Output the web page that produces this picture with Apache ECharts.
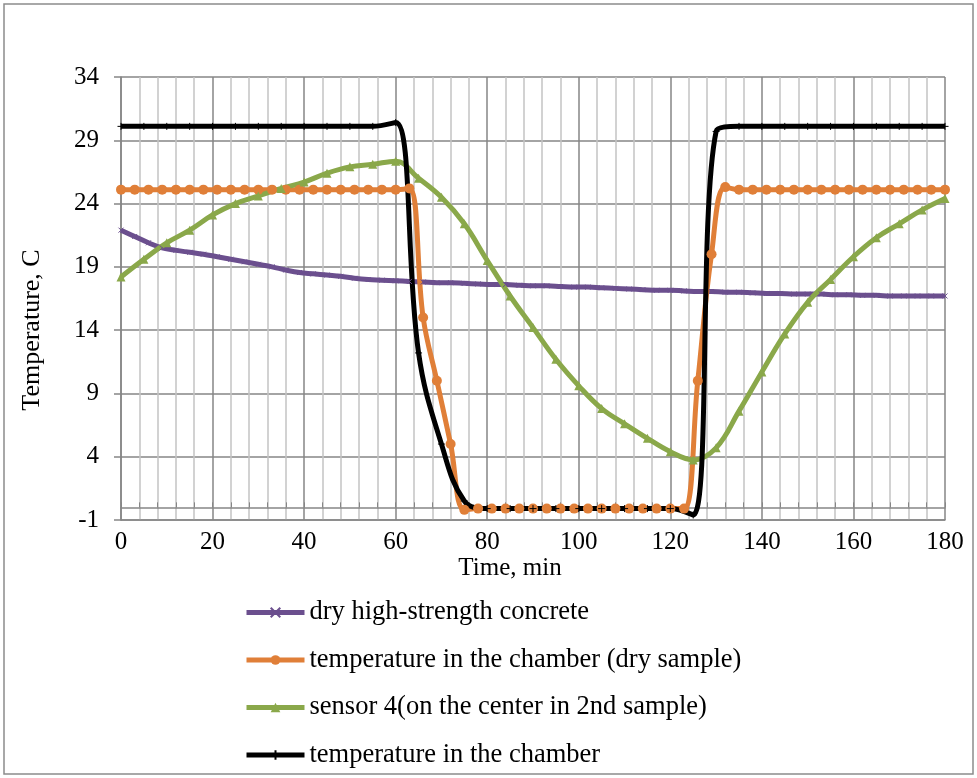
<!DOCTYPE html>
<html>
<head>
<meta charset="utf-8">
<script src="https://cdn.jsdelivr.net/npm/echarts@6/dist/echarts.min.js"></script>
<style>
  html, body { margin: 0; padding: 0; background: #fff; }
  #chart { width: 977px; height: 778px; }
</style>
</head>
<body>
<div id="chart"></div>
<script>
// sample times, min
const minutes3 = [0, 3, 6, 9, 12, 15, 18, 21, 24, 27, 30, 33, 36, 39, 42, 45, 48, 51, 54, 57,
  60, 63, 66, 69, 72, 75, 78, 81, 84, 87, 90, 93, 96, 99, 102, 105, 108, 111, 114, 117,
  120, 123, 126, 129, 132, 135, 138, 141, 144, 147, 150, 153, 156, 159, 162, 165, 168, 171, 174, 177, 180]
const minutes5 = [0, 5, 10, 15, 20, 25, 30, 35, 40, 45, 50, 55, 60, 65, 70, 75, 80, 85, 90,
  95, 100, 105, 110, 115, 120, 125, 130, 135, 140, 145, 150, 155, 160, 165, 170, 175, 180]

// temperatures, C
const dryConcrete = [21.9, 21.4, 20.9, 20.5, 20.3, 20.15, 20.0, 19.8, 19.6, 19.4, 19.2, 19.0, 18.75, 18.55, 18.45, 18.35, 18.25, 18.1, 18.0, 17.95,
  17.9, 17.85, 17.8, 17.75, 17.75, 17.7, 17.65, 17.6, 17.6, 17.55, 17.5, 17.5, 17.45, 17.4, 17.4, 17.35, 17.3, 17.25, 17.2, 17.15,
  17.15, 17.1, 17.05, 17.05, 17.0, 17.0, 16.95, 16.9, 16.9, 16.85, 16.85, 16.85, 16.8, 16.8, 16.75, 16.75, 16.7, 16.7, 16.7, 16.7, 16.7]
const chamberDry = [25.1, 25.1, 25.1, 25.1, 25.1, 25.1, 25.1, 25.1, 25.1, 25.1, 25.1, 25.1, 25.1, 25.1, 25.1, 25.1, 25.1, 25.1, 25.1, 25.1,
  25.1, 25.2, 15.0, 10.0, 5.0, -0.2, -0.1, -0.1, -0.1, -0.1, -0.1, -0.1, -0.1, -0.1, -0.1, -0.1, -0.1, -0.1, -0.1, -0.1,
  -0.1, -0.1, 10.0, 20.0, 25.3, 25.1, 25.1, 25.1, 25.1, 25.1, 25.1, 25.1, 25.1, 25.1, 25.1, 25.1, 25.1, 25.1, 25.1, 25.1, 25.1]
const sensor4 = [18.2, 19.6, 20.9, 21.9, 23.1, 24.0, 24.6, 25.2, 25.7, 26.4, 26.9, 27.1, 27.35, 26.0, 24.5, 22.4, 19.5, 16.7, 14.2,
  11.7, 9.6, 7.8, 6.6, 5.45, 4.4, 3.75, 4.7, 7.6, 10.7, 13.7, 16.2, 18.0, 19.8, 21.3, 22.4, 23.5, 24.4]
const chamber = [30.1, 30.1, 30.1, 30.1, 30.1, 30.1, 30.1, 30.1, 30.1, 30.1, 30.1, 30.1, 30.4, 12.2, 5.0, 0.5, -0.1, -0.1, -0.1,
  -0.1, -0.1, -0.1, -0.1, -0.1, -0.1, -0.6, 29.7, 30.1, 30.1, 30.1, 30.1, 30.1, 30.1, 30.1, 30.1, 30.1, 30.1]

const seriesNames = [
  'dry high-strength concrete',
  'temperature in the chamber (dry sample)',
  'sensor 4(on the center in 2nd sample)',
  'temperature in the chamber'
]

const pair = (xs, ys) => xs.map((x, i) => [x, ys[i]])

const FONT = '"Liberation Serif", "Times New Roman", serif'
const crossPath = 'path://M0,0 L10,10 M10,0 L0,10'
const plusPath = 'path://M5,0 L5,10 M0,5 L10,5'

const chart = echarts.init(document.getElementById('chart'))
chart.setOption({
  animation: false,
  textStyle: { fontFamily: FONT },
  graphic: [{
    type: 'rect',
    shape: { x: 4, y: 4, width: 969, height: 770 },
    style: { fill: 'none', stroke: '#8c8c8c', lineWidth: 1.5 },
    silent: true
  }, {
    // y title sits a bit below the plot centre
    type: 'text',
    x: 32,
    y: 330,
    rotation: Math.PI / 2,
    style: {
      text: 'Temperature, C',
      font: '26px "Liberation Serif", serif',
      fill: '#000',
      align: 'center',
      verticalAlign: 'middle'
    },
    silent: true
  }, {
    type: 'text',
    x: 510,
    y: 568,
    style: {
      text: 'Time, min',
      font: '25px "Liberation Serif", serif',
      fill: '#000',
      align: 'center',
      verticalAlign: 'middle'
    },
    silent: true
  }],
  grid: { left: 121, right: 32, top: 77, bottom: 258 },
  legend: {
    orient: 'vertical',
    left: 239,
    top: 594,
    itemWidth: 58,
    itemHeight: 12,
    itemGap: 20.5,
    lineStyle: { width: 5 },
    textStyle: { fontFamily: FONT, fontSize: 26.5, color: '#000' },
    data: seriesNames
  },
  xAxis: [{
    type: 'value',
    min: 0,
    max: 180,
    interval: 20,
    axisLine: { onZero: false, lineStyle: { color: '#868686', width: 1.5 } },
    axisTick: { show: false },
    axisLabel: { margin: 10, fontFamily: FONT, fontSize: 25, color: '#000' },
    splitLine: { show: true, lineStyle: { color: '#868686', width: 1.5 } },
    minorSplitLine: { show: true, lineStyle: { color: '#c3c3c3', width: 1.5 } },
    minorTick: { splitNumber: 5 }
  }, {
    // the line crossing at 0 C
    type: 'value',
    min: 0,
    max: 180,
    interval: 20,
    position: 'bottom',
    axisLine: { show: true, onZero: true, lineStyle: { color: '#868686', width: 1.5 } },
    axisTick: { show: true, inside: true, length: 5, lineStyle: { color: '#868686' } },
    minorTick: { show: true, splitNumber: 5, length: 5, lineStyle: { color: '#868686' } },
    axisLabel: { show: false },
    splitLine: { show: false }
  }],
  yAxis: {
    type: 'value',
    min: -1,
    max: 34,
    interval: 5,
    axisLine: { show: true, lineStyle: { color: '#868686', width: 1.5 } },
    axisTick: { show: true, length: 7, lineStyle: { color: '#868686', width: 1.5 } },
    axisLabel: { margin: 22, fontFamily: FONT, fontSize: 25, color: '#000' },
    splitLine: { lineStyle: { color: '#868686', width: 1.5 } }
  },
  series: [
    {
      type: 'line',
      name: seriesNames[0],
      data: pair(minutes3, dryConcrete),
      smooth: 0.4,
      symbol: crossPath,
      symbolSize: 5,
      itemStyle: { color: '#6b4f8e', borderColor: '#6b4f8e', borderWidth: 1 },
      lineStyle: { color: '#6b4f8e', width: 5 }
    },
    {
      type: 'line',
      name: seriesNames[1],
      data: pair(minutes3, chamberDry),
      smooth: 0.4,
      symbol: 'circle',
      symbolSize: 10,
      itemStyle: { color: '#e07f38' },
      lineStyle: { color: '#e07f38', width: 5 }
    },
    {
      type: 'line',
      name: seriesNames[2],
      data: pair(minutes5, sensor4),
      smooth: 0.4,
      symbol: 'triangle',
      symbolSize: 9,
      itemStyle: { color: '#8aa84a' },
      lineStyle: { color: '#8aa84a', width: 5 }
    },
    {
      type: 'line',
      name: seriesNames[3],
      data: pair(minutes5, chamber),
      smooth: 0.4,
      symbol: plusPath,
      symbolSize: 7,
      itemStyle: { color: '#000', borderColor: '#000', borderWidth: 1 },
      lineStyle: { color: '#000', width: 5 }
    }
  ]
})
</script>
</body>
</html>
